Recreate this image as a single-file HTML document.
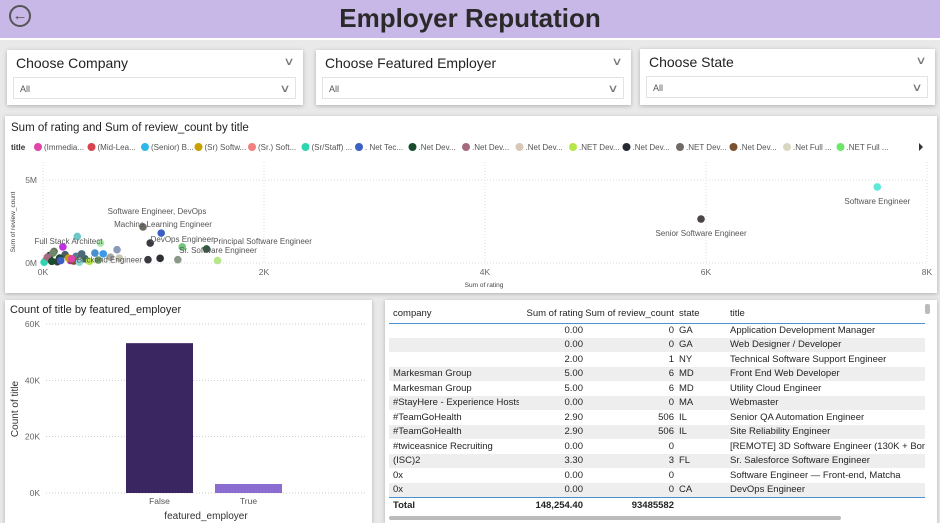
<!DOCTYPE html>
<html><head><meta charset="utf-8">
<style>
*{box-sizing:border-box;margin:0;padding:0}
body{width:940px;height:523px;background:#e9e9e9;font-family:"Liberation Sans",sans-serif;position:relative;overflow:hidden;color:#252423}
.abs{position:absolute}
.card{position:absolute;background:#fff;box-shadow:0 1px 4px rgba(0,0,0,.25)}
.slicer-title{position:absolute;left:9px;top:5px;font-size:14px;color:#222}
.chev{position:absolute;font-size:11px;color:#777;transform:scaleX(1.4)}
.dd{position:absolute;left:6px;right:7px;top:27px;height:22px;border:1px solid #e3e3e3;font-size:9px;color:#555;padding:6px 0 0 6px}
table{border-collapse:collapse;font-size:9.5px;table-layout:fixed}
td{height:14.5px;padding:0;white-space:nowrap;overflow:hidden}
</style></head><body>
<div class="abs" style="left:0;top:0;width:940px;height:40px;background:#c8b8e8;border-bottom:2px solid #fff"></div>
<div class="abs" style="left:9px;top:5px;width:22px;height:22px;border:2px solid #555;border-radius:50%;font-size:15px;line-height:17px;text-align:center;color:#555">&#8592;</div>
<div class="abs" style="left:0;top:3px;width:940px;text-align:center;font-size:26px;font-weight:bold;color:#2a2a2a">Employer Reputation</div>

<div class="card" style="left:7px;top:50px;width:296px;height:55px">
<div class="slicer-title">Choose Company</div><div class="chev" style="right:10px;top:5px">&#8744;</div>
<div class="dd">All<span class="chev" style="right:6px;top:4px">&#8744;</span></div></div>
<div class="card" style="left:316px;top:50px;width:315px;height:55px">
<div class="slicer-title">Choose Featured Employer</div><div class="chev" style="right:10px;top:5px">&#8744;</div>
<div class="dd">All<span class="chev" style="right:6px;top:4px">&#8744;</span></div></div>
<div class="card" style="left:640px;top:49px;width:295px;height:56px">
<div class="slicer-title">Choose State</div><div class="chev" style="right:10px;top:5px">&#8744;</div>
<div class="dd">All<span class="chev" style="right:6px;top:4px">&#8744;</span></div></div>

<div class="card" style="left:5px;top:116px;width:932px;height:177px"></div>
<svg id="scatter" class="abs" style="left:0;top:0" width="940" height="300"></svg>

<div class="card" style="left:5px;top:300px;width:367px;height:223px"></div>
<svg id="bar" class="abs" style="left:0;top:0" width="380" height="523"></svg>

<div class="card" style="left:385px;top:300px;width:552px;height:223px">
<table style="position:absolute;left:4px;top:5px;width:536px">
<colgroup><col style="width:130px"><col style="width:64px"><col style="width:91px"><col style="width:53px"><col style="width:198px"></colgroup>
<tr style="border-bottom:1.5px solid #4a90d0;height:18px"><td style="padding-left:4px">company</td><td style="text-align:right">Sum of rating</td><td style="text-align:right">Sum of review_count</td><td style="padding-left:5px">state</td><td style="padding-left:3px">title</td></tr>
<tbody id="tb"></tbody>
<tr style="border-top:1.5px solid #4a90d0;font-weight:bold;height:17px"><td style="padding-left:4px">Total</td><td style="text-align:right">148,254.40</td><td style="text-align:right">93485582</td><td></td><td></td></tr>
</table>
<div class="abs" style="left:4px;top:216px;width:452px;height:4px;background:#bbb;border-radius:2px"></div>
<div class="abs" style="left:540px;top:4px;width:5px;height:10px;background:#bbb;border-radius:2px"></div>
</div>

<script>
const rows=[["","0.00","0","GA","Application Development Manager"],["","0.00","0","GA","Web Designer / Developer"],["","2.00","1","NY","Technical Software Support Engineer"],["Markesman Group","5.00","6","MD","Front End Web Developer"],["Markesman Group","5.00","6","MD","Utility Cloud Engineer"],["#StayHere - Experience Hosts","0.00","0","MA","Webmaster"],["#TeamGoHealth","2.90","506","IL","Senior QA Automation Engineer"],["#TeamGoHealth","2.90","506","IL","Site Reliability Engineer"],["#twiceasnice Recruiting","0.00","0","","[REMOTE] 3D Software Engineer (130K + Bonu"],["(ISC)2","3.30","3","FL","Sr. Salesforce Software Engineer"],["0x","0.00","0","","Software Engineer — Front-end, Matcha"],["0x","0.00","0","CA","DevOps Engineer"]];
const tb=document.getElementById('tb');
rows.forEach((r,i)=>{const tr=document.createElement('tr');


if(i%2)tr.style.background='#eeeeee';
tr.innerHTML=`<td style="padding-left:4px">${r[0]}</td><td style="text-align:right">${r[1]}</td><td style="text-align:right">${r[2]}</td><td style="padding-left:5px">${r[3]}</td><td style="padding-left:3px">${r[4]}</td>`;tb.appendChild(tr);});

const NS='http://www.w3.org/2000/svg';
function mk(svg,tag,attrs,txt){const e=document.createElementNS(NS,tag);for(const k in attrs)e.setAttribute(k,attrs[k]);if(txt!==undefined)e.textContent=txt;svg.appendChild(e);return e;}

const legendTitles=["(Immedia...","(Mid-Lea...","(Senior) B...","(Sr) Softw...","(Sr.) Soft...","(Sr/Staff) ...",". Net Tec...",".Net Dev...",".Net Dev...",".Net Dev...",".NET Dev...",".Net Dev...",".NET Dev...",".Net Dev...",".Net Full ...",".NET Full ..."];
const legendColors=["#e044a7","#d64550","#30b9e8","#c8a000","#f28080","#2ed5b0","#3c5fc4","#1a4d2e","#a66a80","#d9c8b8","#b6e64a","#252a33","#6e6a66","#7a5230","#d8d8c0","#6ee66e"];
const ratings=[7550,5955,905,1070,970,1260,1480,310,520,180,545,670,950,1060,1220,1580,690,610,500,470,380,300,250,200,150,100,60,30,10,420,350,280,230,130,90,40,160,260,330,80];
const reviews=[4.58,2.65,2.17,1.8,1.2,0.97,0.85,1.6,1.2,0.97,0.55,0.8,0.2,0.28,0.2,0.15,0.3,0.35,0.18,0.6,0.25,0.4,0.15,0.5,0.3,0.7,0.45,0.2,0.05,0.1,0.55,0.12,0.3,0.08,0.6,0.35,0.15,0.25,0.05,0.1];
const pointColors=["#5ee8d8","#4a4448","#6e6a66","#3c5fc4","#3a3a40","#6cc878","#2a5a3a","#6ec8c8","#a8e8a8","#c030e0","#3c9ae8","#8a9ab8","#3a3a40","#303038","#8a9a88","#b6e68a","#c8c8b0","#a8a8a0","#6a9a60","#4a90d0","#3a6a60","#5a7a8a","#a03090","#4a5a6a","#1a4d2e","#6e6a66","#2a3a3a","#b040a0","#2ed5b0","#b6e64a","#4a6a7a","#7a5230","#c8a000","#3a3a40","#6a8a6a","#a66a80","#3c5fc4","#e044a7","#8ad8d8","#1a4d2e"];
const pointLabels=["Software Engineer","Senior Software Engineer","Software Engineer, DevOps","","DevOps Engineer","","Principal Software Engineer","","Full Stack Architect","","","","","","","","","","","","","","","","","","","","","Backend Engineer"];
const labelOffsets=[[0,14],[0,14],[14,-16],[0,0],[32,-4],[0,0],[56,-8],[0,0],[-32,-2],[0,0]];
const xTicks=[0,2000,4000,6000,8000],xTickLabels=["0K","2K","4K","6K","8K"];
const yTicks=[0,5],yTickLabels=["0M","5M"];

const sc=document.getElementById('scatter');
const sx=v=>43+v/8000*884, sy=v=>263-v/5*83;
let t=mk(sc,'text',{x:11,y:131,'font-size':11.5,fill:'#252423'},'Sum of rating and Sum of review_count by title');
t=mk(sc,'text',{x:11,y:150,'font-size':8,'font-weight':'bold',fill:'#333'},'title');
let lx=34;
legendTitles.forEach((s,i)=>{const c=mk(sc,'circle',{cx:lx+4,cy:147,r:4,fill:legendColors[i]});
const tx=mk(sc,'text',{x:lx+10,y:150,'font-size':8,fill:'#555'},s);lx+=53.5;});
mk(sc,'path',{d:'M919 143 L923 147 L919 151Z',fill:'#333'});
xTicks.forEach((v,i)=>{mk(sc,'line',{x1:sx(v),x2:sx(v),y1:162,y2:263,stroke:'#ddd','stroke-dasharray':'1,2'});
const tx=mk(sc,'text',{x:sx(v),y:275,'font-size':8.5,fill:'#666','text-anchor':'middle'},xTickLabels[i]);});
yTicks.forEach((v,i)=>{mk(sc,'line',{x1:43,x2:927,y1:sy(v),y2:sy(v),stroke:'#ddd','stroke-dasharray':'1,2'});
const tx=mk(sc,'text',{x:37,y:sy(v)+3,'font-size':8.5,fill:'#666','text-anchor':'end'},yTickLabels[i]);});
t=mk(sc,'text',{x:484,y:287,'font-size':6.5,fill:'#444','text-anchor':'middle'},'Sum of rating');
t=mk(sc,'text',{x:0,y:0,'font-size':6.5,fill:'#444','text-anchor':'middle',transform:'translate(15,222) rotate(-90)'},'Sum of review_count');
ratings.forEach((r,i)=>{const c=mk(sc,'circle',{cx:sx(r),cy:sy(reviews[i]),r:3.8,fill:pointColors[i%pointColors.length]});});
const extra=[["Machine Learning Engineer",163,227],["Sr. Software Engineer",218,253]];
pointLabels.forEach((s,i)=>{if(!s)return;const o=labelOffsets[i]||[20,-2];
const tx=mk(sc,'text',{x:sx(ratings[i])+o[0],y:sy(reviews[i])+o[1]+3,'font-size':8,fill:'#555','text-anchor':'middle'},s);});
extra.forEach(e=>{const tx=mk(sc,'text',{x:e[1],y:e[2],'font-size':8,fill:'#555','text-anchor':'middle'},e[0]);});

const barCats=["False","True"];
const barVals=[53200,3200];
const barColors=["#3a2660","#8b6cd0"];
const barTicks=[0,20000,40000,60000],barTickLabels=["0K","20K","40K","60K"];
const bs=document.getElementById('bar');
const by=v=>493-v/60000*169;
t=mk(bs,'text',{x:10,y:313,'font-size':11,fill:'#252423'},'Count of title by featured_employer');
barTicks.forEach((v,i)=>{mk(bs,'line',{x1:46,x2:367,y1:by(v),y2:by(v),stroke:'#ccc','stroke-dasharray':'1,2'});
const tx=mk(bs,'text',{x:40,y:by(v)+3,'font-size':8.5,fill:'#666','text-anchor':'end'},barTickLabels[i]);});
barCats.forEach((c,i)=>{const x=126+i*89;
const r=mk(bs,'rect',{x:x,y:by(barVals[i]),width:67,height:by(0)-by(barVals[i]),fill:barColors[i]});
const tx=mk(bs,'text',{x:x+33.5,y:504,'font-size':8.5,fill:'#555','text-anchor':'middle'},c);});
t=mk(bs,'text',{x:206,y:519,'font-size':10,fill:'#333','text-anchor':'middle'},'featured_employer');
t=mk(bs,'text',{x:0,y:0,'font-size':10,fill:'#333','text-anchor':'middle',transform:'translate(18,409) rotate(-90)'},'Count of title');
</script>
</body></html>
